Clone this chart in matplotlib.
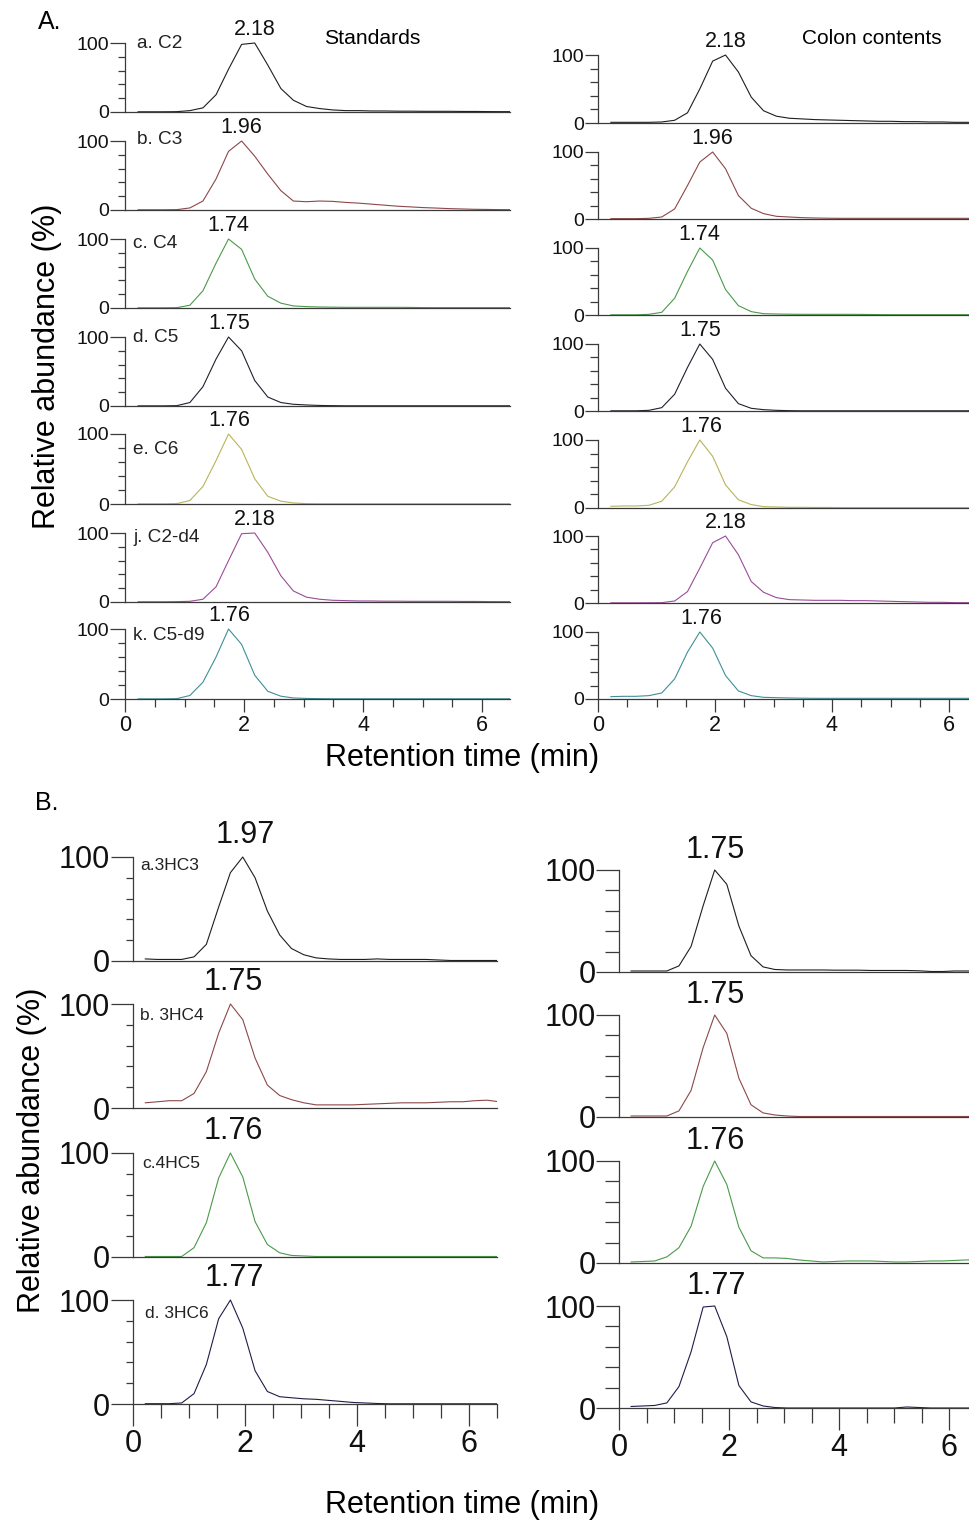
import matplotlib
matplotlib.use("Agg")
import matplotlib.pyplot as plt
from matplotlib.ticker import FixedLocator, NullFormatter

plt.rcParams['font.family'] = ['Liberation Sans', 'DejaVu Sans']

# ---------------- data ----------------
TIME = [0.22, 0.44, 0.65, 0.87, 1.09, 1.31, 1.53, 1.74, 1.96, 2.18,
        2.40, 2.62, 2.83, 3.05, 3.27, 3.49, 3.71, 3.92, 4.14, 4.36,
        4.58, 4.80, 5.01, 5.23, 5.45, 5.67, 5.89, 6.10, 6.32, 6.54]

# Panel A - standards
STD_C2 = [0.3, 0.3, 0.3, 0.5, 2, 6, 25, 62, 98, 100, 68, 34, 17, 8, 5, 3, 2, 2, 1.5, 1.5,
          1.2, 1.2, 1, 1, 1, 0.8, 0.8, 0.6, 0.5, 0.5]
STD_C3 = [0.3, 0.3, 0.3, 0.5, 3, 13, 45, 85, 100, 78, 52, 28, 13, 12, 13, 12.5, 11, 10, 8.5, 7,
          5.5, 4.5, 3.5, 2.8, 2, 1.5, 1, 0.8, 0.5, 0.5]
STD_C4 = [0.3, 0.3, 0.3, 0.5, 4, 25, 65, 100, 85, 42, 17, 7, 3, 2, 1.5, 1.2, 1, 1, 1, 1,
          1, 0.8, 0.6, 0.5, 0.5, 0.5, 0.5, 0.5, 0.5, 0.5]
STD_C5 = [0.2, 0.2, 0.2, 0.5, 5, 28, 68, 100, 80, 37, 13, 5, 2.5, 1.5, 0.8, 0.5, 0.3, 0.3, 0.3, 0.3,
          0.3, 0.3, 0.3, 0.3, 0.3, 0.3, 0.3, 0.3, 0.3, 0.3]
STD_C6 = [0.2, 0.2, 0.2, 0.5, 5, 25, 62, 100, 78, 36, 11, 4, 1.5, 0.5, 0.3, 0.3, 0.3, 0.3, 0.3, 0.3,
          0.3, 0.3, 0.3, 0.3, 0.3, 0.3, 0.3, 0.3, 0.3, 0.3]
STD_C2D4 = [0.3, 0.3, 0.3, 0.5, 1, 4, 22, 60, 99, 100, 72, 38, 16, 7, 4, 2.5, 2, 1.5, 1.5, 1.2,
            1.2, 1, 1, 1, 1, 0.8, 0.8, 0.6, 0.5, 0.5]
STD_C5D9 = [0.2, 0.2, 0.2, 0.5, 5, 24, 60, 100, 78, 34, 11, 4, 1.5, 0.8, 0.5, 0.3, 0.3, 0.3, 0.3, 0.3,
            0.3, 0.3, 0.3, 0.3, 0.3, 0.3, 0.3, 0.3, 0.3, 0.3]

# Panel A - colon contents
COL_C2 = [1, 1, 1, 1, 1.5, 4, 15, 50, 91, 100, 75, 38, 18, 10, 7, 6, 5, 4.5, 4, 3.5,
          3, 2.5, 2.5, 2, 2, 1.5, 1.5, 1, 1, 1]
COL_C3 = [0.5, 0.5, 0.5, 1, 3, 15, 50, 85, 100, 75, 35, 16, 8, 4, 3, 2, 1.5, 1.2, 1, 1,
          1, 1, 1, 1, 1, 1, 1, 1, 1, 1]
COL_C4 = [0.3, 0.3, 0.3, 1, 4, 25, 65, 100, 82, 38, 14, 5, 2, 1.5, 1.2, 1, 1, 1, 1, 1,
          0.8, 0.6, 0.5, 0.5, 0.5, 0.5, 0.5, 0.5, 0.5, 0.5]
COL_C5 = [0.3, 0.3, 0.3, 1, 5, 25, 65, 100, 77, 34, 11, 4, 2, 1, 0.5, 0.3, 0.3, 0.3, 0.3, 0.3,
          0.3, 0.3, 0.3, 0.3, 0.3, 0.3, 0.3, 0.3, 0.3, 0.3]
COL_C6 = [2.5, 3, 3, 4, 10, 31, 68, 100, 76, 34, 12, 5, 2, 1.5, 1, 1, 0.8, 0.8, 0.6, 0.5,
          0.5, 0.5, 0.5, 0.5, 0.5, 0.5, 0.5, 0.5, 0.5, 0.5]
COL_C2D4 = [0.3, 0.3, 0.3, 0.4, 0.5, 3, 17, 52, 90, 100, 72, 32, 16, 8, 5, 4.5, 4, 4, 4, 3.5,
            3.5, 3, 2.5, 2, 1.5, 1, 1, 0.5, 0.5, 0.5]
COL_C5D9 = [3.5, 4, 4, 5, 9, 30, 70, 100, 76, 35, 12, 5, 2.5, 2, 1.5, 1.2, 1, 1, 1, 1,
            1, 1, 1, 1, 1, 1, 1, 1, 1, 1]

# Panel B - standards
STD_3HC3 = [2, 1.5, 1.5, 1.5, 4, 16, 52, 85, 100, 80, 48, 25, 12, 6, 3, 2, 1.5, 1.5, 1.5, 2,
            1.5, 1.5, 1.5, 1.5, 1, 0.5, 0.5, 0.5, 0.5, 0.5]
STD_3HC4 = [5, 6, 7, 7, 14, 35, 72, 100, 85, 48, 22, 12, 8, 5, 3, 3, 3, 3, 3.5, 4,
            4.5, 5, 5, 5, 5.5, 6, 6, 7, 7.5, 6]
STD_4HC5 = [0.5, 0.5, 0.5, 0.5, 9, 33, 76, 100, 77, 34, 12, 4, 1.5, 1, 0.5, 0.5, 0.5, 0.5, 0.5, 0.5,
            0.5, 0.5, 0.5, 0.5, 0.5, 0.5, 0.5, 0.5, 0.5, 0.5]
STD_3HC6 = [0.3, 0.3, 0.3, 1, 10, 38, 82, 100, 73, 32, 12, 7, 6, 5, 4.5, 3.5, 2.5, 1.5, 1, 0.5,
            0.2, 0.2, 0.2, 0.2, 0.2, 0.2, 0.2, 0.2, 0.2, 0.2]

# Panel B - colon contents
COL_3HC3 = [1, 1, 1, 1, 6, 25, 65, 100, 86, 45, 16, 5, 2.5, 2, 2, 2, 2, 1.8, 1.8, 1.8,
            1.5, 1.5, 1.5, 1.5, 1.2, 0.5, 0.5, 1, 1, 1]
COL_3HC4 = [1, 1, 1, 1, 6, 26, 68, 100, 82, 38, 12, 4, 2, 1, 0.5, 0.5, 0.5, 0.5, 0.5, 0.5,
            0.5, 0.5, 0.5, 0.5, 0.5, 0.5, 0.5, 0.5, 0.5, 0.5]
COL_4HC5 = [1, 1.5, 2, 6, 15, 36, 75, 100, 77, 35, 12, 5, 5, 4.5, 3, 2, 1, 1.5, 2, 2,
            2, 1.5, 1, 1, 1.5, 2, 2, 2.5, 3, 3]
COL_3HC6 = [1.5, 2, 2.5, 5, 21, 55, 99, 100, 70, 22, 6, 2, 0.5, 0, 0, 0, 0, 0, 0, 0,
            0, 0, 0, 1, 0.5, 0, 0, 0, 0, 0]

A_LABELS = ["a. C2", "b. C3", "c. C4", "d. C5", "e. C6", "j. C2-d4", "k. C5-d9"]
A_PEAKS_STD = ["2.18", "1.96", "1.74", "1.75", "1.76", "2.18", "1.76"]
A_PEAKS_COL = ["2.18", "1.96", "1.74", "1.75", "1.76", "2.18", "1.76"]
A_STD = [STD_C2, STD_C3, STD_C4, STD_C5, STD_C6, STD_C2D4, STD_C5D9]
A_COL = [COL_C2, COL_C3, COL_C4, COL_C5, COL_C6, COL_C2D4, COL_C5D9]
A_COLORS = ["#1e1e1e", "#8c4848", "#4a9a4a", "#20202e", "#b8b45a", "#9a4c98", "#3f8f98"]

B_LABELS = ["a.3HC3", "b. 3HC4", "c.4HC5", "d. 3HC6"]
B_PEAKS_STD = ["1.97", "1.75", "1.76", "1.77"]
B_PEAKS_COL = ["1.75", "1.75", "1.76", "1.77"]
B_STD = [STD_3HC3, STD_3HC4, STD_4HC5, STD_3HC6]
B_COL = [COL_3HC3, COL_3HC4, COL_4HC5, COL_3HC6]
B_COLORS = ["#1e1e1e", "#8c4848", "#4a9a4a", "#1e1e48"]

X_MAJOR = [0, 2, 4, 6]
X_MINOR = [0.5, 1, 1.5, 2.5, 3, 3.5, 4.5, 5, 5.5, 6.5]
Y_MAJOR = [0, 100]
Y_MINOR = [20, 40, 60, 80]

# ---------------- layout ----------------
W, H = 969, 1524
fig = plt.figure(figsize=(W / 100, H / 100), dpi=100)
SPINE = "#3a3a3a"
YPAD = 4.0


def ftext(x, y, s, **kw):
    fig.text(x / W, 1 - y / H, s, **kw)


def make_ax(x0, ppm, xmax, y100, y0, style, bottom):
    ppu = (y0 - y100) / 100.0
    top_px = y100 - YPAD * ppu
    bot_px = y0 + YPAD * ppu
    ax = fig.add_axes([x0 / W, 1 - bot_px / H, xmax * ppm / W, (bot_px - top_px) / H])
    ax.set_xlim(0, xmax)
    ax.set_ylim(-YPAD, 100 + YPAD)
    ax.patch.set_alpha(0)
    for s in ("top", "right"):
        ax.spines[s].set_visible(False)
    ax.spines["left"].set_bounds(0, 100)
    ax.spines["bottom"].set_position(("data", 0))
    for s in ("left", "bottom"):
        ax.spines[s].set_color(SPINE)
        ax.spines[s].set_linewidth(0.9)
    ax.yaxis.set_major_locator(FixedLocator(Y_MAJOR))
    ax.yaxis.set_minor_locator(FixedLocator(Y_MINOR))
    ax.yaxis.set_minor_formatter(NullFormatter())
    ax.tick_params(axis="y", which="major", length=style["ymaj"], width=0.9, color=SPINE,
                   labelsize=style["ysize"], pad=0.5, labelcolor="#111111")
    ax.tick_params(axis="y", which="minor", length=style["ymin"], width=0.9, color=SPINE)
    ax.xaxis.set_major_locator(FixedLocator(X_MAJOR))
    ax.xaxis.set_minor_locator(FixedLocator(X_MINOR))
    ax.xaxis.set_minor_formatter(NullFormatter())
    if bottom:
        ax.tick_params(axis="x", which="major", length=style["xmaj"], width=0.9, color=SPINE,
                       labelsize=style["xsize"], pad=style["xpad"], labelcolor="#111111")
        ax.tick_params(axis="x", which="minor", length=style["xmin"], width=0.9, color=SPINE)
    else:
        ax.tick_params(axis="x", which="both", bottom=False, labelbottom=False)
    return ax


STYLE_AL = dict(ymaj=10.8, ymin=5.0, ysize=14, xmaj=9.4, xmin=5.8, xsize=15.5, xpad=2.0)
STYLE_AR = dict(ymaj=9.4, ymin=5.8, ysize=14, xmaj=9.4, xmin=5.8, xsize=15.5, xpad=2.0)
STYLE_BL = dict(ymaj=16.0, ymin=5.0, ysize=22, xmaj=16.0, xmin=10.0, xsize=22, xpad=2.0)
STYLE_BR = dict(ymaj=16.5, ymin=10.0, ysize=22, xmaj=16.0, xmin=10.8, xsize=22, xpad=2.0)

# Panel A geometry (pixel rows for 100 and 0)
AL_Y100 = [43, 141, 239, 337, 434, 533, 629]
AL_Y0 = [112, 210, 308, 406, 504, 602, 699]
AR_Y100 = [55, 152, 248, 344, 440, 536, 632]
AR_Y0 = [123, 219, 315, 411, 508, 603, 699]
A_LABEL_POS = [(137, 43), (137, 140), (133, 244), (133, 338), (133, 449), (133, 537), (133, 636)]

for i in range(7):
    ax = make_ax(125, 59.5, 6.47, AL_Y100[i], AL_Y0[i], STYLE_AL, i == 6)
    ax.plot(TIME, A_STD[i], color=A_COLORS[i], lw=0.8)
    ax.annotate(A_PEAKS_STD[i], xy=(float(A_PEAKS_STD[i]), 100), xytext=(0, 10),
                textcoords="offset points", ha="center", va="center", fontsize=15.5,
                color="#111111")
    ftext(A_LABEL_POS[i][0], A_LABEL_POS[i][1], A_LABELS[i], ha="left", va="center",
          fontsize=13.7, color="#222222")

    ax = make_ax(598, 58.5, (W - 598) / 58.5, AR_Y100[i], AR_Y0[i], STYLE_AR, i == 6)
    ax.plot(TIME, A_COL[i], color=A_COLORS[i], lw=0.8)
    ax.annotate(A_PEAKS_COL[i], xy=(float(A_PEAKS_COL[i]), 100), xytext=(0, 9.4),
                textcoords="offset points", ha="center", va="center", fontsize=15.5,
                color="#111111")

# Panel B geometry
BL_Y100 = [857, 1004, 1153, 1300]
BL_Y0 = [961, 1108, 1257, 1404]
BR_Y100 = [870, 1015, 1161, 1306]
BR_Y0 = [972, 1117, 1263, 1408]
B_LABEL_POS = [(140, 866), (140, 1016), (142, 1164), (145, 1313)]

for i in range(4):
    ax = make_ax(133, 56, 6.5, BL_Y100[i], BL_Y0[i], STYLE_BL, i == 3)
    ax.plot(TIME, B_STD[i], color=B_COLORS[i], lw=0.8)
    ax.annotate(B_PEAKS_STD[i], xy=(float(B_PEAKS_STD[i]), 100), xytext=(1.5, 16),
                textcoords="offset points", ha="center", va="center", fontsize=22,
                color="#111111")
    ftext(B_LABEL_POS[i][0], B_LABEL_POS[i][1], B_LABELS[i], ha="left", va="center",
          fontsize=12.5, color="#222222")

    ax = make_ax(619, 55, (W - 619) / 55, BR_Y100[i], BR_Y0[i], STYLE_BR, i == 3)
    ax.plot(TIME, B_COL[i], color=B_COLORS[i], lw=0.8)
    ax.annotate(B_PEAKS_COL[i], xy=(float(B_PEAKS_COL[i]), 100), xytext=(0, 14.4),
                textcoords="offset points", ha="center", va="center", fontsize=22,
                color="#111111")

# ---------------- figure texts ----------------
ftext(50, 22, "A.", ha="center", va="center", fontsize=18)
ftext(47, 803, "B.", ha="center", va="center", fontsize=18)
ftext(372, 38, "Standards", ha="center", va="center", fontsize=15.2)
ftext(872, 38, "Colon contents", ha="center", va="center", fontsize=15)
ftext(47, 366, "Relative abundance (%)", ha="center", va="center", rotation=90, fontsize=22)
ftext(32, 1150, "Relative abundance (%)", ha="center", va="center", rotation=90, fontsize=22)
ftext(462, 758, "Retention time (min)", ha="center", va="center", fontsize=22)
ftext(462, 1505, "Retention time (min)", ha="center", va="center", fontsize=22)

fig.savefig("out.png", dpi=100)
